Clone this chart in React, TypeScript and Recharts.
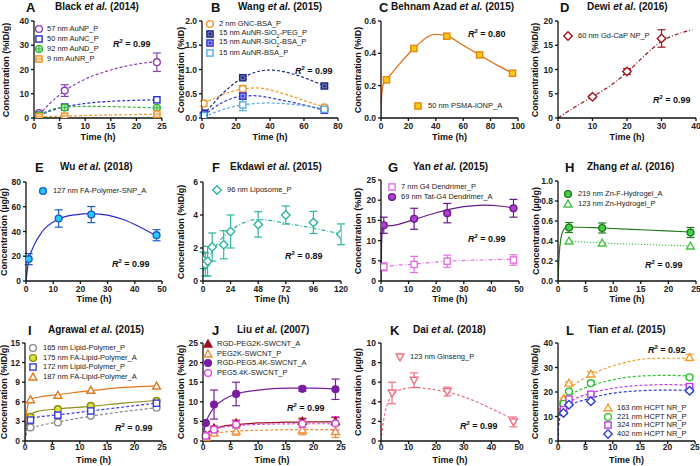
import React from "react"
import { ComposedChart, Line, Scatter, XAxis, YAxis, ErrorBar } from "recharts"

const FONT = '"Liberation Sans", Arial, Helvetica, sans-serif'

// A - Black et al. (2014)
const aTime = [1, 6, 24]
const aAuNP = [2, 11.3, 23]
const aAuNPErr = [0.8, 2.4, 3.8]
const aAuNC = [1, 4.5, 7.5]
const aAuND = [1.2, 4.3, 4.2]
const aAuNR = [0.5, 0.8, 1.6]
const aAuNPFit = [[1, 1.3], [3, 5.8], [6, 11.2], [10, 16], [15, 19.8], [20, 22.2], [24, 23.3]]
const aAuNCFit = [[1, 1], [3, 2.8], [6, 4.6], [10, 6], [15, 6.9], [20, 7.3], [24, 7.5]]
const aAuNDFit = [[1, 1.2], [3, 3.2], [6, 4.4], [10, 4.8], [15, 4.7], [20, 4.4], [24, 4.2]]
const aAuNRFit = [[1, 0.5], [6, 0.8], [12, 1.1], [18, 1.35], [24, 1.6]]

// B - Wang et al. (2015)
const bTime = [1, 24, 72]
const bGNC = [0.3, 0.6, 0.22]
const bGNCErr = [0.05, 0.07, 0.03]
const bPEG = [0.1, 0.83, 0.66]
const bPEGErr = [0.02, 0.03, 0.04]
const bSiBSA = [0.08, 0.45, 0.16]
const bSiBSAErr = [0.02, 0.06, 0.02]
const bBSA = [0.05, 0.27, 0.18]
const bBSAErr = [0.02, 0.12, 0.02]
const bGNCFit = [[1, 0.3], [12, 0.48], [24, 0.6], [32, 0.62], [48, 0.5], [60, 0.36], [72, 0.22]]
const bPEGFit = [[1, 0.06], [12, 0.5], [24, 0.83], [40, 0.99], [56, 0.88], [72, 0.66]]
const bSiBSAFit = [[1, 0.05], [12, 0.32], [24, 0.45], [30, 0.46], [48, 0.36], [72, 0.16]]
const bBSAFit = [[1, 0.02], [12, 0.17], [24, 0.27], [40, 0.31], [56, 0.27], [72, 0.19]]

// C - Behnam Azad et al. (2015)
const cTime = [4, 24, 48, 72, 96]
const cIONP = [0.236, 0.43, 0.506, 0.39, 0.277]
const cIONPFit = [[0, 0], [0.3, 0.1], [1, 0.18], [2, 0.215], [4, 0.236], [12, 0.32], [24, 0.43], [36, 0.51], [40, 0.518], [48, 0.508], [60, 0.45], [72, 0.39], [84, 0.33], [96, 0.278]]

// D - Dewi et al. (2016)
const dTime = [10, 20, 30]
const dGdCaP = [4.4, 9.6, 16.4]
const dGdCaPErr = [0.3, 0.6, 1.8]
const dGdCaPFit = [[0, 0], [5, 2.3], [10, 4.4], [15, 6.6], [20, 9.4], [25, 12.8], [30, 15.8], [35, 17.4], [39, 18.2]]

// E - Wu et al. (2018)
const eTime = [1, 12, 24, 48]
const eSNP = [17.7, 50.5, 53.7, 37]
const eSNPErr = [4.5, 7, 6.5, 4.5]
const eSNPFit = [[0, 0], [0.3, 6], [1, 16], [3, 29], [6, 40], [12, 50], [18, 53.5], [24, 54.5], [30, 53.2], [36, 49.5], [42, 43.5], [48, 36.5]]

// F - Ekdawi et al. (2015)
const fTime = [0.5, 2, 4, 8, 18, 24, 48, 72, 96, 120]
const fLipo = [1.25, 1.0, 1.2, 2.06, 2.2, 3.0, 3.43, 4.0, 3.55, 2.83]
const fLipoErr = [0.5, 0.7, 0.9, 0.85, 0.85, 1.0, 0.77, 0.55, 0.67, 0.63]
const fLipoFit = [[0, 0.6], [6, 1.5], [12, 2.2], [24, 3.05], [36, 3.55], [45, 3.72], [60, 3.65], [72, 3.5], [96, 3.2], [120, 2.85]]

// G - Yan et al. (2015)
const gTime = [1, 12, 24, 48]
const gTat = [13.8, 15.4, 16.8, 18]
const gTatErr = [2, 2.6, 2.4, 2.2]
const gG4 = [3.5, 4.1, 4.9, 5.2]
const gG4Err = [1, 2, 1.5, 1.3]
const gTatFit = [[0, 0], [0.2, 9], [0.6, 13], [1, 13.6], [4, 13.7], [12, 15.2], [20, 16.9], [30, 18.4], [37, 18.8], [44, 18.5], [48, 18.1]]
const gG4Fit = [[0, 3.2], [1, 3.4], [12, 4.2], [24, 4.9], [36, 5.2], [48, 5.4]]

// H - Zhang et al. (2016)
const hTime = [2, 8, 24]
const hZnF = [0.535, 0.53, 0.485]
const hZnFErr = [0.05, 0.05, 0.05]
const hZn = [0.4, 0.38, 0.35]
const hZnFFit = [[0, 0], [0.2, 0.25], [0.5, 0.42], [1, 0.51], [1.5, 0.535], [2, 0.54], [8, 0.53], [16, 0.51], [24, 0.49]]
const hZnFit = [[2, 0.4], [8, 0.38], [16, 0.365], [24, 0.35]]

// I - Agrawal et al. (2015)
const iTime = [1, 6, 12, 24]
const i165 = [2.08, 2.84, 3.85, 5.1]
const i175 = [3.7, 4.87, 5.37, 6.13]
const i172 = [3.2, 3.95, 4.6, 5.78]
const i187 = [6.3, 7.0, 7.75, 8.4]
const i165Fit = [[0, 0], [0.3, 1.2], [1, 1.9], [3, 2.4], [6, 2.9], [12, 3.8], [18, 4.5], [24, 5.1]]
const i175Fit = [[0, 0], [0.3, 2.6], [1, 3.9], [2, 4.5], [6, 4.9], [12, 5.3], [18, 5.8], [24, 6.2]]
const i172Fit = [[0, 0], [0.3, 2.3], [1, 3.4], [3, 3.75], [6, 4.0], [12, 4.6], [18, 5.2], [24, 5.8]]
const i187Fit = [[0, 0], [0.3, 4.5], [1, 6.4], [3, 6.8], [6, 7.1], [12, 7.7], [18, 8.2], [24, 8.45]]

// J - Liu et al. (2007)
const jTime = [0.5, 2, 6, 18, 24]
const jRGD2 = [1.4, 3.3, 4.6, 5.0, 5.0]
const jRGD2Err = [0.3, 0.5, 0.7, 0.8, 1.0]
const jPEG2 = [0.9, 2.0, 2.5, 2.8, 2.4]
const jPEG2Err = [0.3, 0.6, 1.0, 1.2, 1.5]
const jRGD54 = [4.6, 9.3, 12, 13.3, 13.2]
const jRGD54Err = [0.3, 3.7, 3, 0.6, 2.6]
const jPEG54 = [1.3, 2.9, 4.2, 4.4, 4.5]
const jPEG54Err = [0.3, 0.6, 0.9, 1.0, 1.7]
const jRGD2Fit = [[0, 0], [0.5, 1.6], [1, 2.3], [2, 3.1], [4, 3.9], [6, 4.2], [10, 4.6], [15, 4.8], [20, 4.9], [24, 4.9]]
const jPEG2Fit = [[0, 0], [0.5, 0.9], [1, 1.4], [2, 1.9], [6, 2.5], [12, 2.8], [18, 2.9], [24, 2.9]]
const jRGD54Fit = [[0, 0], [0.2, 2.5], [0.5, 4.6], [1, 6.3], [2, 8.5], [4, 10.8], [6, 12], [10, 13], [15, 13.5], [20, 13.5], [24, 13.3]]
const jPEG54Fit = [[0, 0], [0.5, 1.4], [1, 2.1], [2, 2.9], [4, 3.6], [6, 3.9], [12, 4.3], [18, 4.4], [24, 4.4]]

// K - Dai et al. (2018)
const kTime = [4, 12, 24, 48]
const kGin = [4.9, 6.2, 5.05, 1.95]
const kGinErr = [1.1, 0.75, 0.45, 0.5]
const kGinFit = [[0, 0], [1, 2.2], [2, 3.5], [4, 4.6], [8, 5.3], [12, 5.45], [18, 5.3], [24, 5.0], [32, 4.3], [40, 3.3], [48, 2.2]]

// L - Tian et al. (2015)
const lTime = [1, 2, 6, 24]
const l163 = [17.1, 23.6, 27.3, 34.1]
const l163Err = [0.5, 0.5, 1.0, 1.3]
const l221 = [15.2, 20.2, 23.6, 26]
const l221Err = [0.5, 0.5, 0.8, 0.8]
const l324 = [12.8, 17.1, 19.1, 22.2]
const l324Err = [0.5, 0.5, 0.5, 0.7]
const l402 = [11.4, 14.8, 16.2, 20.5]
const l402Err = [0.4, 0.5, 0.5, 0.6]
const l163Fit = [[0, 0], [0.1, 10], [0.3, 15], [1, 18.4], [2, 21], [6, 27], [11.5, 31.6], [17, 33.7], [24, 33.8]]
const l221Fit = [[0, 0], [0.1, 8], [0.3, 12.5], [1, 15.5], [2, 18], [6, 22.5], [10, 25], [15, 26.5], [20, 26.8], [24, 26.5]]
const l324Fit = [[0, 0], [0.1, 7], [0.3, 10.5], [1, 13.2], [2, 15.5], [6, 19.5], [10, 21.5], [15, 22.7], [20, 23], [24, 22.8]]
const l402Fit = [[0, 0], [0.1, 6], [0.3, 9], [1, 11.8], [2, 14], [6, 17.5], [10, 19.5], [15, 20.5], [20, 20.8], [24, 20.7]]

type Kind = "circle" | "square" | "diamond" | "triangle" | "triangleDown" | "circlePlus" | "squareLine" | "squareDot"

interface Series {
  label: React.ReactNode
  data: { x: number; y: number; e: number }[]
  fit: { x: number; y: number }[]
  kind: Kind
  stroke: string
  fill: string
  line: string
  dash?: string
  err?: boolean
}

interface PanelCfg {
  letter: string
  author: string
  year: string
  letterX: number
  titleX: number
  titleY: number
  left: number
  top: number
  right: number
  bottom: number
  xMax: number
  xTicks: number[]
  yMax: number
  yTicks: number[]
  yDec: number
  yLabel: string
  yLabelX: number
  xLabelY: number
  tickGap: number
  series: Series[]
  legend: { x: number; y: number; dy: number; tx: number }
  r2: string
  r2x: number
  r2y: number
}

const pts = (xs: number[], ys: number[], es?: number[]) =>
  xs.map((x, i) => ({ x, y: ys[i], e: es ? es[i] : 0 }))
const curve = (p: number[][]) => p.map(([x, y]) => ({ x, y }))

const DASH = "3 2"
const DASHDOT = "4 2 1 2"
const DOT = "1.2 1.8"

function Mark({ kind, cx, cy, stroke, fill }: { kind: Kind; cx: number; cy: number; stroke: string; fill: string }) {
  const r = 3.4
  const sw = 1.4
  const common = { stroke, strokeWidth: sw, fill }
  switch (kind) {
    case "circle":
      return <circle cx={cx} cy={cy} r={r} {...common} />
    case "circlePlus":
      return (
        <g>
          <circle cx={cx} cy={cy} r={r} {...common} />
          <line x1={cx - r} y1={cy} x2={cx + r} y2={cy} stroke={stroke} strokeWidth={1} />
          <line x1={cx} y1={cy - r} x2={cx} y2={cy + r} stroke={stroke} strokeWidth={1} />
        </g>
      )
    case "square":
      return <rect x={cx - r + 0.3} y={cy - r + 0.3} width={2 * r - 0.6} height={2 * r - 0.6} {...common} />
    case "squareLine":
      return (
        <g>
          <rect x={cx - r + 0.3} y={cy - r + 0.3} width={2 * r - 0.6} height={2 * r - 0.6} {...common} />
          <line x1={cx - r} y1={cy} x2={cx + r} y2={cy} stroke={stroke} strokeWidth={1} />
        </g>
      )
    case "squareDot":
      return (
        <g>
          <rect x={cx - r + 0.3} y={cy - r + 0.3} width={2 * r - 0.6} height={2 * r - 0.6} {...common} />
          <rect x={cx - 1.2} y={cy - 1.2} width={2.4} height={2.4} fill={stroke} />
        </g>
      )
    case "diamond": {
      const d = r * 1.25
      return <polygon points={`${cx},${cy - d} ${cx + d},${cy} ${cx},${cy + d} ${cx - d},${cy}`} {...common} />
    }
    case "triangle": {
      const d = r * 1.15
      return <polygon points={`${cx},${cy - d} ${cx + d},${cy + d * 0.75} ${cx - d},${cy + d * 0.75}`} {...common} />
    }
    case "triangleDown": {
      const d = r * 1.15
      return <polygon points={`${cx},${cy + d} ${cx + d},${cy - d * 0.75} ${cx - d},${cy - d * 0.75}`} {...common} />
    }
  }
  return null
}

const W = "#ffffff"

const panels: PanelCfg[] = [
  {
    letter: "A", author: "Black", year: "(2014)", letterX: 26, titleX: 55, titleY: 7,
    left: 34, top: 21, right: 162, bottom: 118,
    xMax: 25, xTicks: [0, 5, 10, 15, 20, 25], yMax: 40, yTicks: [0, 10, 20, 30, 40], yDec: 0,
    yLabel: "Concentration (%ID/g)", yLabelX: 6, xLabelY: 137, tickGap: 2,
    series: [
      { label: "57 nm AuNP_P", data: pts(aTime, aAuNP, aAuNPErr), fit: curve(aAuNPFit), kind: "circle", stroke: "#8a3fb8", fill: W, line: "#8a3fb8", dash: DASH, err: true },
      { label: "50 nm AuNC_P", data: pts(aTime, aAuNC), fit: curve(aAuNCFit), kind: "square", stroke: "#2a2acf", fill: W, line: "#2a2acf", dash: DASH },
      { label: "92 nm AuND_P", data: pts(aTime, aAuND), fit: curve(aAuNDFit), kind: "circlePlus", stroke: "#36b436", fill: "#c8f0c8", line: "#36b436", dash: DASH },
      { label: "9 nm AuNR_P", data: pts(aTime, aAuNR), fit: curve(aAuNRFit), kind: "squareLine", stroke: "#f0962a", fill: "#fde2bf", line: "#f0962a", dash: DASH },
    ],
    legend: { x: 39, y: 29, dy: 10, tx: 47 },
    r2: "0.99", r2x: 113, r2y: 43,
  },
  {
    letter: "B", author: "Wang", year: "(2015)", letterX: 211, titleX: 238, titleY: 7,
    left: 202, top: 21, right: 338, bottom: 118,
    xMax: 80, xTicks: [0, 20, 40, 60, 80], yMax: 2, yTicks: [0, 0.5, 1, 1.5, 2], yDec: 1,
    yLabel: "Concentration (%ID)", yLabelX: 181, xLabelY: 137, tickGap: 2,
    series: [
      { label: "2 nm GNC-BSA_P", data: pts(bTime, bGNC, bGNCErr), fit: curve(bGNCFit), kind: "circle", stroke: "#f0962a", fill: W, line: "#f0962a", dash: DASH, err: true },
      { label: <>15 nm AuNR-SiO<sub style={{ fontSize: "70%" }}>2</sub>-PEG_P</>, data: pts(bTime, bPEG, bPEGErr), fit: curve(bPEGFit), kind: "squareDot", stroke: "#1f2a80", fill: "#6a74b8", line: "#1f2a80", dash: DASH, err: true },
      { label: <>15 nm AuNR-SiO<sub style={{ fontSize: "70%" }}>2</sub>-BSA_P</>, data: pts(bTime, bSiBSA, bSiBSAErr), fit: curve(bSiBSAFit), kind: "squareDot", stroke: "#3434cc", fill: "#9a9af0", line: "#3434cc", dash: DASH, err: true },
      { label: "15 nm AuNR-BSA_P", data: pts(bTime, bBSA, bBSAErr), fit: curve(bBSAFit), kind: "square", stroke: "#5aaae8", fill: W, line: "#5aaae8", dash: DASH, err: true },
    ],
    legend: { x: 210, y: 24, dy: 9.5, tx: 219 },
    r2: "0.99", r2x: 295, r2y: 70,
  },
  {
    letter: "C", author: "Behnam Azad", year: "(2015)", letterX: 379, titleX: 391, titleY: 7,
    left: 381, top: 21, right: 518, bottom: 118,
    xMax: 100, xTicks: [0, 20, 40, 60, 80, 100], yMax: 0.6, yTicks: [0, 0.2, 0.4, 0.6], yDec: 1,
    yLabel: "Concentration (%ID)", yLabelX: 358, xLabelY: 137, tickGap: 2,
    series: [
      { label: "50 nm PSMA-IONP_A", data: pts(cTime, cIONP), fit: curve(cIONPFit), kind: "square", stroke: "#e8860c", fill: "#f8c81a", line: "#e06a10" },
    ],
    legend: { x: 418, y: 106, dy: 10, tx: 428 },
    r2: "0.80", r2x: 468, r2y: 33,
  },
  {
    letter: "D", author: "Dewi", year: "(2016)", letterX: 560, titleX: 587, titleY: 7,
    left: 558, top: 21, right: 696, bottom: 118,
    xMax: 40, xTicks: [0, 10, 20, 30, 40], yMax: 20, yTicks: [0, 5, 10, 15, 20], yDec: 0,
    yLabel: "Concentration (%ID/g)", yLabelX: 535, xLabelY: 137, tickGap: 2,
    series: [
      { label: "60 nm Gd-CaP NP_P", data: pts(dTime, dGdCaP, dGdCaPErr), fit: curve(dGdCaPFit), kind: "diamond", stroke: "#a0141e", fill: W, line: "#a0141e", dash: DASHDOT, err: true },
    ],
    legend: { x: 568, y: 36, dy: 10, tx: 578 },
    r2: "0.99", r2x: 653, r2y: 99,
  },
  {
    letter: "E", author: "Wu", year: "(2018)", letterX: 35, titleX: 60, titleY: 167,
    left: 26, top: 182, right: 162, bottom: 281,
    xMax: 50, xTicks: [0, 10, 20, 30, 40, 50], yMax: 80, yTicks: [0, 20, 40, 60, 80], yDec: 0,
    yLabel: "Concentration (µg/g)", yLabelX: 4, xLabelY: 299, tickGap: 2,
    series: [
      { label: "127 nm FA-Polymer-SNP_A", data: pts(eTime, eSNP, eSNPErr), fit: curve(eSNPFit), kind: "circle", stroke: "#1a5cc8", fill: "#28c8f8", line: "#2a2ac8", err: true },
    ],
    legend: { x: 43, y: 191, dy: 10, tx: 53 },
    r2: "0.99", r2x: 112, r2y: 263,
  },
  {
    letter: "F", author: "Ekdawi", year: "(2015)", letterX: 212, titleX: 230, titleY: 167,
    left: 203, top: 182, right: 341, bottom: 281,
    xMax: 120, xTicks: [0, 24, 48, 72, 96, 120], yMax: 6, yTicks: [0, 2, 4, 6], yDec: 0,
    yLabel: "Concentration (%ID/g)", yLabelX: 181, xLabelY: 299, tickGap: 2,
    series: [
      { label: "96 nm Liposome_P", data: pts(fTime, fLipo, fLipoErr), fit: curve(fLipoFit), kind: "diamond", stroke: "#2fb4a4", fill: W, line: "#2fb4a4", dash: DASHDOT, err: true },
    ],
    legend: { x: 217, y: 190, dy: 10, tx: 227 },
    r2: "0.89", r2x: 285, r2y: 255,
  },
  {
    letter: "G", author: "Yan", year: "(2015)", letterX: 388, titleX: 413, titleY: 167,
    left: 381, top: 180, right: 519, bottom: 281,
    xMax: 50, xTicks: [0, 10, 20, 30, 40, 50], yMax: 25, yTicks: [0, 5, 10, 15, 20, 25], yDec: 0,
    yLabel: "Concentration (%ID)", yLabelX: 358, xLabelY: 299, tickGap: 2,
    series: [
      { label: "7 nm G4 Dendrimer_P", data: pts(gTime, gG4, gG4Err), fit: curve(gG4Fit), kind: "square", stroke: "#e070e0", fill: W, line: "#e070e0", dash: DASHDOT, err: true },
      { label: "69 nm Tat-G4 Dendrimer_A", data: pts(gTime, gTat, gTatErr), fit: curve(gTatFit), kind: "circle", stroke: "#6a1a8a", fill: "#b040d0", line: "#6a1a8a", err: true },
    ],
    legend: { x: 392, y: 187, dy: 10, tx: 401 },
    r2: "0.99", r2x: 468, r2y: 238,
  },
  {
    letter: "H", author: "Zhang", year: "(2016)", letterX: 565, titleX: 587, titleY: 167,
    left: 558, top: 181, right: 696, bottom: 281,
    xMax: 25, xTicks: [0, 5, 10, 15, 20, 25], yMax: 1, yTicks: [0, 0.2, 0.4, 0.6, 0.8, 1], yDec: 1,
    yLabel: "Concentration (µg/g)", yLabelX: 536, xLabelY: 299, tickGap: 2,
    series: [
      { label: "219 nm Zn-F-Hydrogel_A", data: pts(hTime, hZnF, hZnFErr), fit: curve(hZnFFit), kind: "circle", stroke: "#1f7a1f", fill: "#44d044", line: "#1f7a1f", err: true },
      { label: "123 nm Zn-Hydrogel_P", data: pts(hTime, hZn), fit: curve(hZnFit), kind: "triangle", stroke: "#44c444", fill: W, line: "#44c444", dash: DOT },
    ],
    legend: { x: 568, y: 194, dy: 10, tx: 578 },
    r2: "0.99", r2x: 645, r2y: 264,
  },
  {
    letter: "I", author: "Agrawal", year: "(2015)", letterX: 28, titleX: 48, titleY: 330,
    left: 25, top: 343, right: 162, bottom: 441,
    xMax: 25, xTicks: [0, 5, 10, 15, 20, 25], yMax: 15, yTicks: [0, 3, 6, 9, 12, 15], yDec: 0,
    yLabel: "Concentration (%ID/g)", yLabelX: 4, xLabelY: 460, tickGap: 0,
    series: [
      { label: "165 nm Lipid-Polymer_P", data: pts(iTime, i165), fit: curve(i165Fit), kind: "circle", stroke: "#8a8a8a", fill: W, line: "#8a8a8a", dash: DASH },
      { label: "175 nm FA-Lipid-Polymer_A", data: pts(iTime, i175), fit: curve(i175Fit), kind: "circle", stroke: "#8c8c10", fill: "#dce444", line: "#8c8c10" },
      { label: "172 nm Lipid-Polymer_P", data: pts(iTime, i172), fit: curve(i172Fit), kind: "square", stroke: "#3a3ae0", fill: W, line: "#3a3ae0", dash: DASH },
      { label: "187 nm FA-Lipid-Polymer_A", data: pts(iTime, i187), fit: curve(i187Fit), kind: "triangle", stroke: "#e07820", fill: W, line: "#e07820" },
    ],
    legend: { x: 33, y: 348, dy: 9.5, tx: 43 },
    r2: "0.99", r2x: 115, r2y: 427,
  },
  {
    letter: "J", author: "Liu", year: "(2007)", letterX: 212, titleX: 237, titleY: 330,
    left: 203, top: 343, right: 341, bottom: 441,
    xMax: 25, xTicks: [0, 5, 10, 15, 20, 25], yMax: 25, yTicks: [0, 5, 10, 15, 20, 25], yDec: 0,
    yLabel: "Concentration (%ID/g)", yLabelX: 181, xLabelY: 460, tickGap: 0,
    series: [
      { label: "RGD-PEG2K-SWCNT_A", data: pts(jTime, jRGD2, jRGD2Err), fit: curve(jRGD2Fit), kind: "triangle", stroke: "#9a1020", fill: "#9a1020", line: "#9a1020", err: true },
      { label: "PEG2K-SWCNT_P", data: pts(jTime, jPEG2, jPEG2Err), fit: curve(jPEG2Fit), kind: "triangle", stroke: "#f08a30", fill: W, line: "#f08a30", dash: DASH, err: true },
      { label: "RGD-PEG5.4K-SWCNT_A", data: pts(jTime, jRGD54, jRGD54Err), fit: curve(jRGD54Fit), kind: "circle", stroke: "#7a1ea0", fill: "#7a1ea0", line: "#7a1ea0", err: true },
      { label: "PEG5.4K-SWCNT_P", data: pts(jTime, jPEG54, jPEG54Err), fit: curve(jPEG54Fit), kind: "circle", stroke: "#e048e0", fill: W, line: "#e048e0", dash: DASH, err: true },
    ],
    legend: { x: 208, y: 344, dy: 9.5, tx: 217 },
    r2: "0.99", r2x: 287, r2y: 407,
  },
  {
    letter: "K", author: "Dai", year: "(2018)", letterX: 390, titleX: 413, titleY: 330,
    left: 381, top: 343, right: 519, bottom: 441,
    xMax: 50, xTicks: [0, 10, 20, 30, 40, 50], yMax: 10, yTicks: [0, 2, 4, 6, 8, 10], yDec: 0,
    yLabel: "Concentration (µg/g)", yLabelX: 358, xLabelY: 460, tickGap: 0,
    series: [
      { label: "123 nm Ginseng_P", data: pts(kTime, kGin, kGinErr), fit: curve(kGinFit), kind: "triangleDown", stroke: "#f07080", fill: W, line: "#f07080", dash: DASH, err: true },
    ],
    legend: { x: 400, y: 357, dy: 10, tx: 410 },
    r2: "0.99", r2x: 460, r2y: 425,
  },
  {
    letter: "L", author: "Tian", year: "(2015)", letterX: 566, titleX: 588, titleY: 330,
    left: 558, top: 343, right: 695, bottom: 441,
    xMax: 25, xTicks: [0, 5, 10, 15, 20, 25], yMax: 40, yTicks: [0, 10, 20, 30, 40], yDec: 0,
    yLabel: "Concentration (%ID/g)", yLabelX: 535, xLabelY: 460, tickGap: 0,
    series: [
      { label: "163 nm HCPT NR_P", data: pts(lTime, l163, l163Err), fit: curve(l163Fit), kind: "triangle", stroke: "#f0a030", fill: W, line: "#f0a030", dash: DASH, err: true },
      { label: "221 nm HCPT NR_P", data: pts(lTime, l221, l221Err), fit: curve(l221Fit), kind: "circle", stroke: "#30c030", fill: W, line: "#30c030", dash: DASH, err: true },
      { label: "324 nm HCPT NR_P", data: pts(lTime, l324, l324Err), fit: curve(l324Fit), kind: "square", stroke: "#c040e0", fill: W, line: "#c040e0", dash: DASH, err: true },
      { label: "402 nm HCPT NR_P", data: pts(lTime, l402, l402Err), fit: curve(l402Fit), kind: "diamond", stroke: "#3040d0", fill: W, line: "#3040d0", dash: DASH, err: true },
    ],
    legend: { x: 608, y: 408, dy: 8.5, tx: 617 },
    r2: "0.92", r2x: 648, r2y: 349,
  },
]

const abs = (x: number, y: number): React.CSSProperties => ({
  position: "absolute",
  left: x,
  top: y,
  whiteSpace: "nowrap",
  lineHeight: 1,
  transform: "translateY(-50%)",
})

function Panel({ p }: { p: PanelCfg }) {
  const yW = 26
  const xH = 18
  const mt = 4
  const mr = 8
  const plotW = p.right - p.left
  const plotH = p.bottom - p.top
  const tickStyle = { fontSize: 8.5, fontWeight: 700, fill: "#222", fontFamily: FONT }
  const axisLine = { stroke: "#111", strokeWidth: 1.3 }

  return (
    <>
      <div style={{ position: "absolute", left: p.left - yW, top: p.top - mt }}>
        <ComposedChart width={yW + plotW + mr} height={mt + plotH + xH} margin={{ top: mt, right: mr, bottom: 0, left: 0 }}>
          <XAxis
            type="number"
            dataKey="x"
            domain={[0, p.xMax]}
            ticks={p.xTicks}
            allowDataOverflow
            height={xH}
            tick={tickStyle}
            tickSize={3}
            tickMargin={p.tickGap}
            axisLine={axisLine}
            tickLine={axisLine}
            interval={0}
          />
          <YAxis
            type="number"
            dataKey="y"
            domain={[0, p.yMax]}
            ticks={p.yTicks}
            allowDataOverflow
            width={yW}
            tick={tickStyle}
            tickSize={3}
            axisLine={axisLine}
            tickLine={axisLine}
            interval={0}
            tickFormatter={(v: number) => v.toFixed(p.yDec)}
          />
          {p.series.map((s, i) => (
            <Line
              key={`l${i}`}
              data={s.fit}
              dataKey="y"
              type="monotone"
              stroke={s.line}
              strokeWidth={1.2}
              strokeDasharray={s.dash}
              dot={false}
              activeDot={false}
              isAnimationActive={false}
            />
          ))}
          {p.series.map((s, i) => (
            <Scatter
              key={`s${i}`}
              data={s.data}
              isAnimationActive={false}
              shape={(pp: any) => <Mark kind={s.kind} cx={pp.cx} cy={pp.cy} stroke={s.stroke} fill={s.fill} />}
            >
              {s.err && (
                <ErrorBar dataKey="e" direction="y" width={4} stroke={s.stroke} strokeWidth={1.2} isAnimationActive={false} />
              )}
            </Scatter>
          ))}
        </ComposedChart>
      </div>

      {/* title */}
      <div style={{ ...abs(p.letterX, p.titleY), fontSize: 13, fontWeight: 700 }}>{p.letter}</div>
      <div style={{ ...abs(p.titleX, p.titleY), fontSize: 10, fontWeight: 700 }}>
        {p.author} <i>et al.</i> {p.year}
      </div>

      {/* axis labels */}
      <div
        style={{
          position: "absolute",
          left: p.yLabelX,
          top: (p.top + p.bottom) / 2,
          transform: "translate(-50%, -50%) rotate(-90deg)",
          whiteSpace: "nowrap",
          fontSize: 9,
          fontWeight: 700,
          lineHeight: 1,
        }}
      >
        {p.yLabel}
      </div>
      <div
        style={{
          position: "absolute",
          left: (p.left + p.right) / 2,
          top: p.xLabelY,
          transform: "translate(-50%, -50%)",
          whiteSpace: "nowrap",
          fontSize: 9,
          fontWeight: 700,
          lineHeight: 1,
        }}
      >
        Time (h)
      </div>

      {/* legend */}
      {p.series.map((s, i) => {
        const y = p.legend.y + i * p.legend.dy
        return (
          <React.Fragment key={`g${i}`}>
            <svg style={{ position: "absolute", left: p.legend.x - 5, top: y - 5 }} width={10} height={10}>
              <Mark kind={s.kind} cx={5} cy={5} stroke={s.stroke} fill={s.fill} />
            </svg>
            <div style={{ ...abs(p.legend.tx, y), fontSize: 7.5, color: "#222" }}>{s.label}</div>
          </React.Fragment>
        )
      })}

      {/* R squared */}
      <div style={{ ...abs(p.r2x, p.r2y), fontSize: 9, fontWeight: 700 }}>
        <i>R</i>
        <sup style={{ fontSize: 6, verticalAlign: "4px" }}>2</sup> = {p.r2}
      </div>
    </>
  )
}

export default function App() {
  return (
    <div
      style={{
        position: "fixed",
        left: 0,
        top: 0,
        width: 700,
        height: 466,
        background: "#fff",
        fontFamily: FONT,
        color: "#111",
        overflow: "hidden",
      }}
    >
      {panels.map((p) => (
        <Panel key={p.letter} p={p} />
      ))}
    </div>
  )
}
